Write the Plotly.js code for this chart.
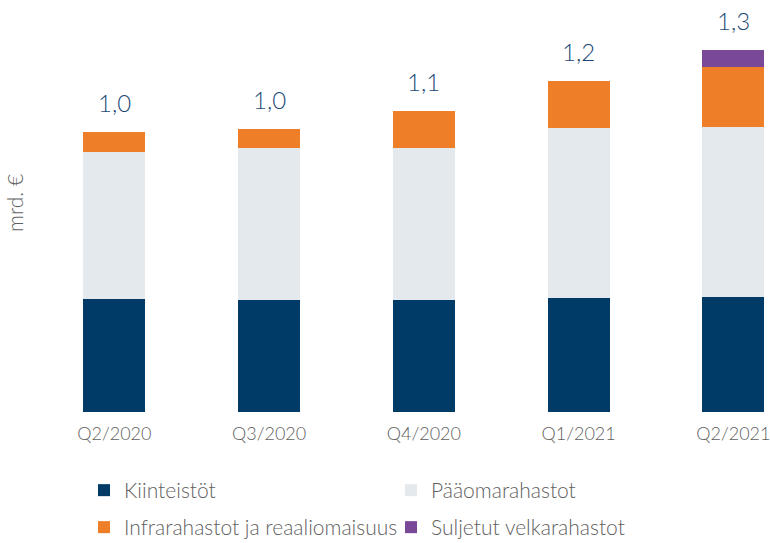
<!DOCTYPE html>
<html>
<head>
<meta charset="utf-8">
<script src="https://cdn.plot.ly/plotly-3.0.1.min.js"></script>
<style>html,body{margin:0;padding:0;background:#fff}#chart{width:770px;height:543px}</style>
</head>
<body>
<div id="chart"></div>
<script>
// Data (mrd. €)
const categories = ["Q2/2020", "Q3/2020", "Q4/2020", "Q1/2021", "Q2/2021"];
const kiinteistot = [0.406, 0.402, 0.402, 0.410, 0.414];
const paaomarahastot = [0.527, 0.545, 0.544, 0.608, 0.609];
const infrarahastot = [0.069, 0.068, 0.134, 0.170, 0.215];
const suljetut = [0, 0, 0, 0, 0.060];
const seriesNames = ["Kiinteistöt", "Pääomarahastot", "Infrarahastot ja reaaliomaisuus", "Suljetut velkarahastot"];
const colors = ["#003a66", "#e4e9ed", "#ef7e28", "#794897"];

const FONT = "Lato, 'Open Sans', sans-serif";
const GREY = "#5f5f5f";

const seriesData = [kiinteistot, paaomarahastot, infrarahastot, suljetut];
const legendIds = ["legend", "legend", "legend2", "legend2"];
const traces = seriesData.map((vals, i) => ({
  type: "bar",
  name: seriesNames[i],
  x: categories,
  y: vals,
  marker: {color: colors[i], line: {width: 0}},
  legend: legendIds[i],
  hoverinfo: "x+y+name"
}));

const totals = categories.map((c, i) => seriesData.reduce((s, arr) => s + arr[i], 0));
const annotations = categories.map((c, i) => ({
  x: c, y: totals[i], xref: "x", yref: "y",
  text: totals[i].toFixed(1).replace(".", ","),
  showarrow: false, yanchor: "bottom", yshift: 13,
  font: {family: FONT, size: 24, color: "#1b4a75", weight: 300}
}));
annotations.push({
  xref: "paper", yref: "paper", x: 0, y: 0.52, xshift: -22,
  text: "mrd. €", textangle: -90, showarrow: false,
  xanchor: "center", yanchor: "middle",
  font: {family: FONT, size: 21, color: GREY, weight: 300}
});

const legendFont = {family: FONT, size: 21, color: GREY, weight: 300};
const layout = {
  width: 770, height: 543,
  margin: {l: 37, r: 0, t: 10, b: 131},
  paper_bgcolor: "#fff", plot_bgcolor: "#fff",
  barmode: "stack",
  bargap: 0.6,
  font: {family: FONT, color: GREY, weight: 300},
  xaxis: {
    type: "category", range: [-0.5, 4.237],
    showgrid: false, zeroline: false, showline: false, ticks: "",
    ticklabelstandoff: 9, automargin: false,
    tickfont: {family: FONT, size: 18, color: GREY, weight: 300},
    fixedrange: true
  },
  yaxis: {
    range: [0, 1.4409], showgrid: false, zeroline: false, showline: false,
    showticklabels: false, ticks: "", fixedrange: true, automargin: false
  },
  showlegend: true,
  legend: {
    orientation: "h", xref: "container", yref: "container",
    x: 84 / 770, xanchor: "left", y: 1 - 470 / 543, yanchor: "top",
    entrywidth: 262, entrywidthmode: "pixels",
    font: legendFont, traceorder: "normal", bgcolor: "rgba(0,0,0,0)"
  },
  legend2: {
    orientation: "h", xref: "container", yref: "container",
    x: 84 / 770, xanchor: "left", y: 1 - 507 / 543, yanchor: "top",
    entrywidth: 262, entrywidthmode: "pixels",
    font: legendFont, traceorder: "normal", bgcolor: "rgba(0,0,0,0)"
  },
  annotations: annotations
};

Plotly.newPlot("chart", traces, layout, {displayModeBar: false, staticPlot: true});
</script>
</body>
</html>
